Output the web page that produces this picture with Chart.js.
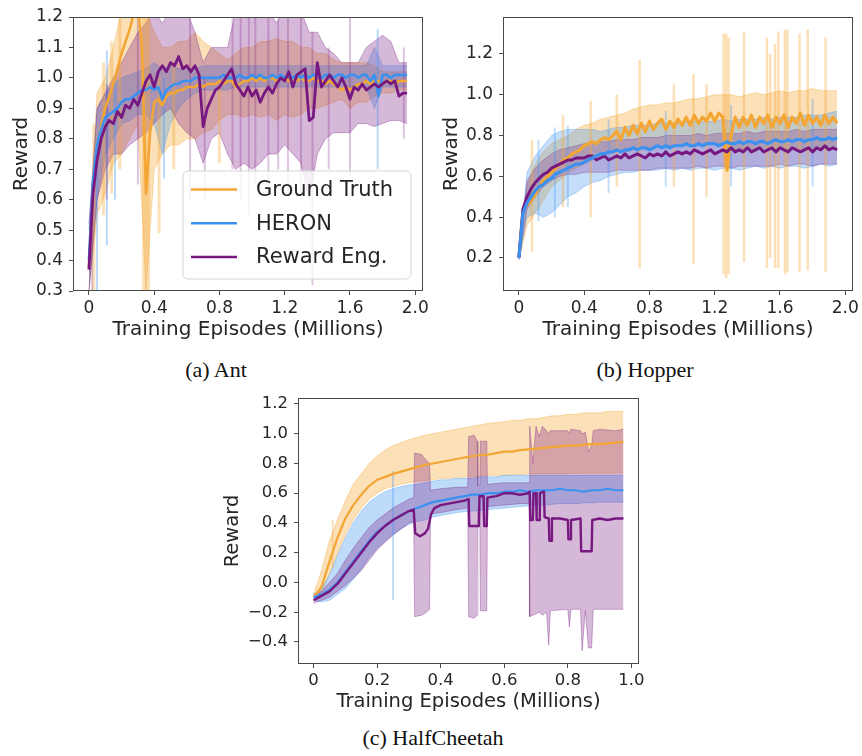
<!DOCTYPE html>
<html>
<head>
<meta charset="utf-8">
<script src="https://cdn.jsdelivr.net/npm/chart.js@4.4.1/dist/chart.umd.min.js"></script>
<style>
  html, body { margin: 0; padding: 0; background: #fff; overflow: hidden; }
  body { width: 862px; height: 756px; position: relative; }
  .panel { position: absolute; }
  .cap { position: absolute; font-family: 'Liberation Serif', 'Times New Roman', serif; font-size: 22px; line-height: 26px; color: #111; white-space: nowrap; transform: translateX(-50%); }
</style>
</head>
<body>
<div class="panel" style="left:0;top:0;width:430px;height:345px"><canvas id="ca"></canvas></div>
<div class="panel" style="left:430px;top:0;width:432px;height:345px"><canvas id="cb"></canvas></div>
<div class="panel" style="left:210px;top:385px;width:440px;height:335px"><canvas id="cc"></canvas></div>
<div class="cap" style="left:216px;top:357px">(a) Ant</div>
<div class="cap" style="left:645px;top:357px">(b) Hopper</div>
<div class="cap" style="left:433px;top:725px">(c) HalfCheetah</div>
<script>
// ---- shared ----
const seriesNames = ['Ground Truth', 'HERON', 'Reward Eng.'];
const GT_RGB = '243,166,51', HERON_RGB = '60,145,240', RE_RGB = '118,24,128';
const INK = '#262626', AXIS = '#4a4a4a';

const longX = [0,0.025,0.05,0.075,0.1,0.125,0.15,0.175,0.2,0.225,0.25,0.275,0.3,0.325,0.35,0.375,0.4,0.425,0.45,0.475,
  0.5,0.525,0.55,0.575,0.6,0.625,0.65,0.675,0.7,0.725,0.75,0.775,0.8,0.825,0.85,0.875,0.9,0.925,0.95,0.975,
  1.0,1.025,1.05,1.075,1.1,1.125,1.15,1.175,1.2,1.225,1.25,1.275,1.3,1.325,1.35,1.375,1.4,1.425,1.45,1.475,
  1.5,1.525,1.55,1.575,1.6,1.625,1.65,1.675,1.7,1.725,1.75,1.775,1.8,1.825,1.85,1.875,1.9,1.925,1.95];
const longBandX = [0,0.05,0.1,0.15,0.2,0.25,0.3,0.35,0.4,0.45,0.5,0.55,0.6,0.65,0.7,0.75,0.8,0.85,0.9,0.95,
  1.0,1.05,1.1,1.15,1.2,1.25,1.3,1.35,1.4,1.45,1.5,1.55,1.6,1.65,1.7,1.75,1.8,1.85,1.9,1.95];
const longXTicks = [0, 0.4, 0.8, 1.2, 1.6, 2.0];
const longXLabels = ['0', '0.4', '0.8', '1.2', '1.6', '2.0'];

// ---- (a) Ant ----
const antYTicks = [0.3, 0.4, 0.5, 0.6, 0.7, 0.8, 0.9, 1.0, 1.1, 1.2];
const antGt = [0.38,0.63,0.76,0.84,0.90,0.94,0.98,1.03,1.08,1.12,
  1.16,1.21,1.24,1.10,0.62,0.82,0.92,0.93,0.91,0.94,
  0.95,0.95,0.96,0.96,0.97,0.97,0.97,0.98,0.97,0.98,
  0.98,0.98,0.99,0.98,0.99,0.99,0.97,0.98,0.99,0.99,
  1.00,0.99,1.00,0.99,1.00,1.00,0.99,1.00,1.00,0.99,
  1.00,0.99,1.00,0.99,0.99,1.00,0.99,0.99,0.98,0.99,
  0.98,0.97,0.96,0.97,0.96,0.97,0.98,0.98,0.99,0.98,
  0.99,0.99,0.98,0.99,0.99,0.98,0.99,0.99,0.99];
const antHeron = [0.40,0.66,0.78,0.83,0.87,0.88,0.89,0.90,0.92,0.93,
  0.93,0.94,0.95,0.96,0.96,0.97,0.96,0.97,0.93,0.96,
  0.97,0.98,0.98,0.99,0.99,0.99,1.00,1.00,1.00,1.00,
  1.00,1.00,1.00,1.01,1.00,1.00,1.00,1.01,1.00,1.00,
  1.01,1.00,1.01,1.00,1.00,1.01,1.00,1.01,1.00,1.01,
  1.00,1.01,1.00,1.01,1.00,1.01,1.01,1.00,1.01,1.01,
  1.00,1.01,1.01,1.00,1.01,1.01,1.00,1.01,1.01,0.99,
  1.01,0.94,1.01,1.01,1.00,1.01,1.01,1.01,1.01];
const antRe = [0.37,0.62,0.73,0.80,0.84,0.86,0.85,0.89,0.87,0.91,
  0.90,0.93,0.91,0.95,0.99,1.01,0.97,1.02,1.04,1.02,
  1.05,1.04,1.07,1.03,1.04,1.02,1.04,1.01,0.84,0.90,
  0.93,0.96,0.97,0.99,1.01,1.03,0.98,0.96,0.94,0.97,
  0.94,0.96,0.92,0.95,0.97,0.95,0.98,1.00,0.99,1.02,
  0.97,1.01,1.02,1.03,0.86,0.87,1.05,0.97,0.99,1.01,
  0.99,0.97,1.00,0.97,0.93,0.97,0.96,0.98,0.96,0.97,
  0.98,0.97,0.98,0.99,0.98,0.99,0.94,0.95,0.95];
const antGtLo = [0.30,0.55,0.62,0.72,0.75,0.80,0.85,0.30,0.70,0.75,
  0.78,0.78,0.80,0.80,0.82,0.83,0.86,0.88,0.88,0.87,
  0.88,0.87,0.88,0.86,0.88,0.87,0.88,0.90,0.90,0.91,
  0.92,0.93,0.90,0.92,0.92,0.94,0.95,0.95,0.96,0.96];
const antGtHi = [0.45,0.95,1.00,1.10,1.22,1.22,1.22,1.22,1.15,1.10,
  1.10,1.12,1.12,1.15,1.12,1.10,1.08,1.06,1.08,1.10,
  1.10,1.12,1.12,1.13,1.12,1.12,1.10,1.10,1.08,1.08,
  1.06,1.05,1.05,1.05,1.05,1.04,1.02,1.02,1.02,1.02];
const antHeronLo = [0.30,0.60,0.75,0.80,0.85,0.86,0.88,0.88,0.85,0.75,
  0.85,0.90,0.93,0.95,0.96,0.96,0.96,0.96,0.97,0.97,
  0.97,0.97,0.97,0.97,0.97,0.97,0.97,0.97,0.97,0.97,
  0.97,0.97,0.97,0.97,0.97,0.90,0.97,0.97,0.97,0.97];
const antHeronHi = [0.50,0.90,0.95,0.98,1.00,1.01,1.02,1.03,1.05,1.03,
  1.04,1.03,1.03,1.03,1.04,1.04,1.04,1.04,1.04,1.04,
  1.04,1.04,1.04,1.04,1.04,1.04,1.04,1.04,1.04,1.04,
  1.04,1.04,1.04,1.04,1.04,1.10,1.04,1.04,1.04,1.04];
const antReLo = [0.30,0.60,0.70,0.75,0.75,0.78,0.80,0.82,0.85,0.88,
  0.90,0.85,0.82,0.80,0.72,0.80,0.82,0.75,0.70,0.72,
  0.70,0.72,0.75,0.75,0.78,0.75,0.72,0.60,0.75,0.80,
  0.82,0.82,0.82,0.85,0.85,0.84,0.85,0.86,0.86,0.85];
const antReHi = [0.52,0.90,0.95,1.00,1.05,1.10,1.15,1.18,1.22,1.18,
  1.22,1.22,1.22,1.15,1.05,1.10,1.10,1.10,1.22,1.22,
  1.22,1.22,1.22,1.18,1.22,1.22,1.22,1.15,1.15,1.10,
  1.08,1.05,1.05,1.05,1.10,1.12,1.14,1.12,1.05,1.05];
// [x, low, high]
const antGtSpikes = [[0.03,0.30,0.85],[0.09,0.55,1.05],[0.14,0.62,1.12],[0.19,0.70,1.22],[0.335,0.30,1.22],[0.35,0.30,1.22],[0.365,0.30,1.22],[0.43,0.49,1.00],[0.52,0.70,1.05],[0.80,0.72,1.00]];
const antHeronSpikes = [[0.05,0.30,0.70],[0.11,0.45,1.09],[0.16,0.60,1.00],[0.46,0.67,1.00],[1.77,0.70,1.16]];
const antReSpikes = [[0.02,0.30,0.65],[0.11,0.60,0.98],[0.30,0.65,1.22],[0.62,0.60,1.22],[0.71,0.60,1.00],[0.88,0.70,1.22],[0.93,0.60,1.22],[0.98,0.55,1.22],[1.02,0.65,1.22],[1.10,0.62,1.22],[1.16,0.70,1.22],[1.22,0.62,1.22],[1.30,0.60,1.22],[1.37,0.32,1.15],[1.47,0.70,1.10],[1.60,0.68,1.22],[1.93,0.80,1.10]];

// ---- (b) Hopper ----
const hopperYTicks = [0.2, 0.4, 0.6, 0.8, 1.0, 1.2];
const hopperGt = [0.20,0.43,0.46,0.48,0.51,0.55,0.58,0.60,0.62,0.64,
  0.66,0.68,0.69,0.71,0.72,0.73,0.75,0.76,0.77,0.76,
  0.78,0.79,0.78,0.80,0.82,0.78,0.84,0.80,0.85,0.81,
  0.86,0.82,0.87,0.83,0.86,0.88,0.83,0.87,0.84,0.88,
  0.85,0.89,0.85,0.90,0.86,0.89,0.87,0.91,0.87,0.91,
  0.89,0.63,0.80,0.89,0.84,0.89,0.85,0.90,0.84,0.89,
  0.86,0.90,0.84,0.89,0.86,0.90,0.84,0.89,0.86,0.91,
  0.85,0.90,0.86,0.89,0.85,0.90,0.86,0.89,0.86];
const hopperHeron = [0.20,0.42,0.47,0.50,0.53,0.55,0.56,0.58,0.59,0.61,
  0.62,0.63,0.64,0.65,0.66,0.66,0.67,0.68,0.69,0.70,
  0.71,0.71,0.72,0.72,0.73,0.72,0.73,0.73,0.74,0.73,
  0.74,0.74,0.73,0.74,0.75,0.74,0.75,0.74,0.75,0.75,
  0.75,0.76,0.75,0.75,0.76,0.75,0.76,0.76,0.76,0.75,
  0.76,0.77,0.76,0.76,0.77,0.76,0.77,0.77,0.76,0.77,
  0.77,0.76,0.77,0.78,0.77,0.77,0.78,0.77,0.78,0.78,
  0.77,0.78,0.78,0.79,0.78,0.78,0.79,0.78,0.79];
const hopperRe = [0.20,0.44,0.50,0.54,0.57,0.59,0.61,0.62,0.64,0.65,
  0.66,0.67,0.68,0.68,0.69,0.69,0.69,0.70,0.70,0.68,
  0.69,0.70,0.68,0.69,0.70,0.69,0.71,0.69,0.70,0.71,
  0.70,0.69,0.71,0.70,0.71,0.70,0.72,0.70,0.71,0.72,
  0.71,0.72,0.71,0.73,0.72,0.71,0.72,0.73,0.71,0.72,
  0.73,0.72,0.74,0.72,0.73,0.72,0.74,0.72,0.73,0.74,
  0.72,0.73,0.74,0.72,0.74,0.73,0.72,0.74,0.73,0.72,
  0.73,0.74,0.72,0.74,0.73,0.75,0.73,0.74,0.73];
const hopperGtLo = [0.19,0.36,0.42,0.48,0.55,0.58,0.62,0.64,0.66,0.68,
  0.70,0.71,0.72,0.72,0.73,0.74,0.74,0.75,0.75,0.75,
  0.75,0.76,0.75,0.76,0.76,0.75,0.74,0.73,0.74,0.73,
  0.74,0.73,0.74,0.73,0.74,0.73,0.74,0.74,0.73,0.74];
const hopperGtHi = [0.22,0.56,0.66,0.72,0.76,0.78,0.80,0.83,0.85,0.86,
  0.88,0.89,0.90,0.91,0.93,0.94,0.95,0.95,0.96,0.96,
  0.97,0.98,0.98,0.99,1.00,1.00,1.00,0.99,1.00,1.01,
  1.00,1.01,1.02,1.01,1.02,1.02,1.03,1.02,1.02,1.02];
const hopperHeronLo = [0.19,0.40,0.42,0.40,0.42,0.46,0.50,0.52,0.55,0.57,
  0.58,0.60,0.61,0.62,0.62,0.63,0.63,0.63,0.64,0.63,
  0.64,0.63,0.64,0.64,0.63,0.64,0.64,0.63,0.64,0.65,
  0.64,0.65,0.64,0.65,0.65,0.64,0.65,0.66,0.65,0.66];
const hopperHeronHi = [0.22,0.62,0.70,0.75,0.80,0.82,0.83,0.83,0.83,0.83,
  0.82,0.83,0.84,0.84,0.85,0.85,0.85,0.86,0.86,0.86,
  0.86,0.87,0.87,0.87,0.87,0.88,0.87,0.88,0.88,0.88,
  0.89,0.88,0.89,0.89,0.89,0.90,0.90,0.90,0.91,0.92];
const hopperReLo = [0.19,0.44,0.50,0.55,0.58,0.60,0.61,0.61,0.62,0.62,
  0.62,0.62,0.63,0.63,0.63,0.63,0.63,0.64,0.64,0.64,
  0.64,0.64,0.65,0.64,0.65,0.65,0.64,0.65,0.65,0.65,
  0.65,0.65,0.66,0.65,0.66,0.66,0.65,0.66,0.66,0.66];
const hopperReHi = [0.22,0.58,0.64,0.68,0.71,0.73,0.74,0.75,0.76,0.76,
  0.77,0.77,0.78,0.78,0.78,0.79,0.79,0.79,0.80,0.80,
  0.80,0.80,0.81,0.80,0.81,0.81,0.81,0.81,0.82,0.81,
  0.82,0.82,0.82,0.82,0.83,0.82,0.83,0.83,0.83,0.83];
const hopperGtSpikes = [[0.08,0.23,0.78],[0.27,0.45,0.90],[0.44,0.40,0.97],[0.60,0.55,1.00],[0.74,0.15,1.17],[0.95,0.55,1.05],[1.07,0.17,1.10],[1.15,0.50,1.05],
  [1.255,0.12,1.30],[1.27,0.10,1.30],[1.285,0.12,1.28],[1.38,0.18,1.31],[1.52,0.15,1.28],[1.54,0.20,1.20],[1.57,0.15,1.25],[1.59,0.15,1.31],
  [1.63,0.12,1.32],[1.645,0.13,1.32],[1.72,0.13,1.30],[1.77,0.14,1.32],[1.88,0.13,1.28]];
const hopperHeronSpikes = [[0.12,0.38,0.78],[0.22,0.40,0.84],[0.30,0.45,0.85],[0.55,0.52,0.88],[0.90,0.55,0.92],[1.30,0.55,0.95],[1.80,0.55,0.98]];

// ---- (c) HalfCheetah ----
const cheetahX = [0,0.025,0.05,0.075,0.1,0.125,0.15,0.175,0.2,0.225,0.25,0.275,0.3,0.325,0.35,0.375,0.4,0.425,0.45,0.475,
  0.5,0.525,0.55,0.575,0.6,0.625,0.65,0.675,0.7,0.725,0.75,0.775,0.8,0.825,0.85,0.875,0.9,0.925,0.95,0.975];
const cheetahXTicks = [0, 0.2, 0.4, 0.6, 0.8, 1.0];
const cheetahXLabels = ['0', '0.2', '0.4', '0.6', '0.8', '1.0'];
const cheetahYTicks = [-0.4, -0.2, 0, 0.2, 0.4, 0.6, 0.8, 1.0, 1.2];
const cheetahYLabels = ['\u22120.4', '\u22120.2', '0.0', '0.2', '0.4', '0.6', '0.8', '1.0', '1.2'];
const cheetahGt = [-0.10,-0.03,0.14,0.30,0.43,0.52,0.59,0.65,0.69,0.71,
  0.73,0.745,0.76,0.775,0.79,0.80,0.81,0.82,0.83,0.84,
  0.85,0.855,0.86,0.87,0.88,0.88,0.89,0.895,0.90,0.905,
  0.91,0.915,0.92,0.92,0.925,0.93,0.93,0.935,0.94,0.945];
const cheetahHeron = [-0.10,-0.08,-0.05,0.00,0.07,0.14,0.21,0.28,0.34,0.38,
  0.42,0.45,0.48,0.50,0.52,0.54,0.55,0.56,0.57,0.58,
  0.59,0.59,0.60,0.60,0.61,0.61,0.62,0.61,0.62,0.62,
  0.62,0.63,0.62,0.62,0.61,0.62,0.62,0.63,0.62,0.62];
const cheetahGtLo = [-0.12,-0.08,0.06,0.19,0.32,0.42,0.50,0.56,0.60,0.63,
  0.645,0.66,0.67,0.68,0.685,0.69,0.70,0.70,0.705,0.71,
  0.71,0.715,0.72,0.72,0.72,0.725,0.725,0.73,0.73,0.73,
  0.73,0.73,0.73,0.735,0.735,0.735,0.735,0.735,0.735,0.735];
const cheetahGtHi = [-0.08,0.08,0.28,0.42,0.55,0.66,0.73,0.80,0.85,0.89,
  0.92,0.94,0.96,0.975,0.99,1.00,1.01,1.02,1.03,1.04,
  1.05,1.06,1.07,1.075,1.08,1.09,1.09,1.10,1.10,1.11,
  1.12,1.12,1.13,1.13,1.14,1.14,1.14,1.15,1.15,1.15];
const cheetahHeronLo = [-0.12,-0.13,-0.12,-0.08,-0.04,0.02,0.09,0.17,0.23,0.28,
  0.32,0.36,0.39,0.41,0.42,0.44,0.45,0.46,0.47,0.475,
  0.48,0.485,0.49,0.495,0.50,0.505,0.51,0.515,0.52,0.52,
  0.525,0.53,0.53,0.53,0.535,0.535,0.54,0.54,0.54,0.54];
const cheetahHeronHi = [-0.08,-0.04,0.05,0.18,0.30,0.40,0.48,0.54,0.58,0.61,
  0.63,0.645,0.655,0.66,0.67,0.68,0.69,0.69,0.70,0.70,
  0.70,0.71,0.71,0.71,0.72,0.72,0.72,0.72,0.72,0.72,
  0.72,0.72,0.72,0.72,0.72,0.72,0.72,0.72,0.72,0.72];
// [x, y]
const cheetahRe = [[0,-0.12],[0.025,-0.09],[0.05,-0.06],[0.075,-0.01],[0.1,0.06],[0.125,0.13],[0.15,0.20],[0.175,0.27],[0.2,0.33],[0.225,0.38],[0.25,0.42],[0.275,0.45],[0.3,0.48],[0.315,0.49],
  [0.32,0.33],[0.335,0.31],[0.35,0.33],[0.36,0.36],[0.37,0.46],[0.38,0.50],[0.4,0.52],[0.425,0.53],[0.45,0.54],[0.475,0.55],[0.488,0.56],
  [0.49,0.38],[0.52,0.38],[0.522,0.58],[0.535,0.58],[0.537,0.38],[0.545,0.38],[0.547,0.57],[0.575,0.58],[0.6,0.60],[0.625,0.60],[0.65,0.59],[0.675,0.60],[0.68,0.61],
  [0.682,0.42],[0.69,0.42],[0.692,0.60],[0.70,0.60],[0.702,0.42],[0.71,0.42],[0.712,0.60],[0.725,0.61],[0.727,0.44],[0.74,0.43],
  [0.742,0.28],[0.748,0.28],[0.75,0.43],[0.775,0.43],[0.8,0.42],[0.802,0.29],[0.808,0.29],[0.81,0.42],[0.84,0.43],[0.842,0.21],[0.875,0.21],[0.877,0.42],
  [0.9,0.43],[0.925,0.42],[0.95,0.43],[0.975,0.43]];
// [x, low, high]
const cheetahReBand = [[0,-0.14,-0.08],[0.025,-0.12,-0.06],[0.05,-0.10,0.0],[0.075,-0.06,0.06],[0.1,-0.02,0.15],[0.125,0.03,0.23],[0.15,0.08,0.30],[0.175,0.15,0.37],[0.2,0.22,0.42],[0.225,0.27,0.46],[0.25,0.32,0.50],[0.275,0.36,0.53],[0.3,0.40,0.56],[0.315,0.41,0.57],
  [0.318,-0.23,0.87],[0.34,-0.22,0.86],[0.355,-0.20,0.82],[0.365,-0.18,0.80],[0.368,0.46,0.62],[0.4,0.47,0.63],[0.45,0.49,0.64],[0.485,0.50,0.64],
  [0.488,-0.23,0.98],[0.505,-0.24,0.99],[0.515,-0.22,0.95],[0.517,0.50,0.65],[0.523,0.50,0.65],[0.525,-0.19,0.95],[0.545,-0.19,0.95],[0.547,0.51,0.66],[0.6,0.52,0.67],[0.65,0.53,0.67],[0.678,0.53,0.67],
  [0.68,-0.23,1.05],[0.69,-0.22,0.80],[0.70,-0.21,1.05],[0.71,-0.20,0.98],[0.72,-0.22,1.05],[0.733,-0.20,1.02],
  [0.74,-0.42,1.0],[0.745,-0.19,1.02],[0.8,-0.18,1.02],[0.805,-0.30,1.0],[0.81,-0.18,1.03],[0.84,-0.18,1.02],[0.845,-0.46,1.0],[0.855,-0.19,1.01],[0.865,-0.44,0.88],[0.875,-0.44,0.92],[0.88,-0.18,1.02],
  [0.9,-0.18,1.03],[0.95,-0.18,1.02],[0.975,-0.18,1.03]];
const cheetahGtSpikes = [[0.06,0.10,0.42]];
const cheetahHeronSpikes = [[0.25,-0.12,0.75]];

// ---- helpers ----
function pts(xs, ys) { return ys.map((y, i) => ({ x: xs[i], y })); }
function pairs(list) { return list.map(([x, y]) => ({ x, y })); }
function spikes(list) {
  const out = [];
  list.forEach(([x, lo, hi]) => out.push({ x, y: lo }, { x, y: hi }, { x, y: null }));
  return out;
}
function line(data, rgb, order, w) {
  return { data, borderColor: `rgb(${rgb})`, borderWidth: w || 2.2, borderJoinStyle: 'round', pointRadius: 0, fill: false, order, clip: 0 };
}
function band(lo, hi, rgb, a, order) {
  const edge = `rgba(${rgb},${a + 0.12})`;
  return [
    { data: hi, borderColor: edge, borderWidth: 0.8, backgroundColor: `rgba(${rgb},${a})`, fill: '+1', pointRadius: 0, order, clip: 0 },
    { data: lo, borderColor: edge, borderWidth: 0.8, fill: false, pointRadius: 0, order, clip: 0 }
  ];
}
function spikeSet(list, rgb, a, w, order) {
  return { data: spikes(list), borderColor: `rgba(${rgb},${a})`, borderWidth: w, borderCapStyle: 'butt', pointRadius: 0, fill: false, spanGaps: false, order, clip: 0 };
}

const frame = {
  id: 'frame',
  afterDatasetsDraw(chart) {
    const { ctx, chartArea: a } = chart;
    ctx.save();
    ctx.strokeStyle = AXIS; ctx.lineWidth = 1;
    ctx.strokeRect(Math.round(a.left) + 0.5, Math.round(a.top) + 0.5, Math.round(a.right - a.left) - 1, Math.round(a.bottom - a.top) - 1);
    ctx.restore();
  }
};

function boxLegend(items) {
  return {
    id: 'boxLegend',
    afterDraw(chart) {
      const { ctx, chartArea: a } = chart;
      const w = 228, h = 108, x0 = a.right - 12 - w, y0 = a.bottom - 12 - h;
      ctx.save();
      ctx.beginPath(); ctx.roundRect(x0, y0, w, h, 5);
      ctx.fillStyle = 'rgba(255,255,255,0.8)'; ctx.fill();
      ctx.strokeStyle = '#d6d6d6'; ctx.lineWidth = 1; ctx.stroke();
      ctx.font = '21px "DejaVu Sans"'; ctx.textBaseline = 'middle';
      items.forEach((it, i) => {
        const y = y0 + 18.5 + i * 33.7;
        ctx.strokeStyle = it.color; ctx.lineWidth = 2.5;
        ctx.beginPath(); ctx.moveTo(x0 + 8, y); ctx.lineTo(x0 + 54, y); ctx.stroke();
        ctx.fillStyle = INK; ctx.fillText(it.label, x0 + 73, y + 1);
      });
      ctx.restore();
    }
  };
}

function axes(o) {
  const tickFont = { family: 'DejaVu Sans', size: o.tick };
  const titleFont = { family: 'DejaVu Sans', size: o.title };
  const grid = { display: true, drawOnChartArea: false, drawTicks: true, tickLength: 4, color: AXIS };
  return {
    x: {
      type: 'linear', min: o.xMin, max: o.xMax,
      afterBuildTicks: s => { s.ticks = o.xTicks.map(v => ({ value: v })); },
      afterFit: s => { s.height = o.xH; s.paddingLeft = 0; s.paddingRight = 0; },
      ticks: { font: tickFont, color: INK, padding: 3, maxRotation: 0, autoSkip: false, callback: (v, i) => o.xLabels[i] },
      grid, border: { display: false },
      title: { display: true, text: 'Training Episodes (Millions)', font: titleFont, color: INK, padding: { top: 0, bottom: o.xTitlePad } }
    },
    y: {
      type: 'linear', min: o.yMin, max: o.yMax,
      afterBuildTicks: s => { s.ticks = o.yTicks.map(v => ({ value: v })); },
      afterFit: s => { s.width = o.yW; s.paddingTop = 0; s.paddingBottom = 0; },
      ticks: { font: tickFont, color: INK, padding: 6, autoSkip: false, callback: (v, i) => o.yLabels[i] },
      grid, border: { display: false },
      title: { display: true, text: 'Reward', font: titleFont, color: INK, padding: { top: o.yTitlePad, bottom: 0 } }
    }
  };
}

function makeChart(id, o, datasets, extra) {
  return new Chart(document.getElementById(id), {
    type: 'line',
    data: { datasets },
    options: {
      responsive: true, maintainAspectRatio: false, animation: false, events: [],
      layout: { padding: o.pad, autoPadding: false },
      plugins: { legend: { display: false }, tooltip: { enabled: false } },
      scales: axes(o)
    },
    plugins: [frame].concat(extra || [])
  });
}

// (a) Ant
makeChart('ca', {
  pad: { top: 17, right: 7, left: 0, bottom: 0 }, yW: 73, xH: 54,
  xMin: -0.0975, xMax: 2.0475, yMin: 0.3, yMax: 1.2,
  xTicks: longXTicks, xLabels: longXLabels, yTicks: antYTicks, yLabels: antYTicks.map(v => v.toFixed(1)),
  tick: 17, title: 20, xTitlePad: 3, yTitlePad: 10
}, [
  line(pts(longX, antRe), RE_RGB, 1, 2.8),
  line(pts(longX, antHeron), HERON_RGB, 2, 2.6),
  line(pts(longX, antGt), GT_RGB, 3, 2.6),
  spikeSet(antReSpikes, RE_RGB, 0.25, 2, 5),
  spikeSet(antHeronSpikes, HERON_RGB, 0.35, 2, 5),
  spikeSet(antGtSpikes, GT_RGB, 0.35, 3, 5),
  ...band(pts(longBandX, antReLo), pts(longBandX, antReHi), RE_RGB, 0.3, 6),
  ...band(pts(longBandX, antHeronLo), pts(longBandX, antHeronHi), HERON_RGB, 0.3, 7),
  ...band(pts(longBandX, antGtLo), pts(longBandX, antGtHi), GT_RGB, 0.35, 8)
], [boxLegend([
  { label: seriesNames[0], color: `rgb(${GT_RGB})` },
  { label: seriesNames[1], color: `rgb(${HERON_RGB})` },
  { label: seriesNames[2], color: `rgb(${RE_RGB})` }
])]);

// (b) Hopper
makeChart('cb', {
  pad: { top: 17, right: 9, left: 0, bottom: 0 }, yW: 73, xH: 54,
  xMin: -0.0975, xMax: 2.0475, yMin: 0.038, yMax: 1.381,
  xTicks: longXTicks, xLabels: longXLabels, yTicks: hopperYTicks, yLabels: hopperYTicks.map(v => v.toFixed(1)),
  tick: 17, title: 20, xTitlePad: 3, yTitlePad: 10
}, [
  line(pts(longX, hopperHeron), HERON_RGB, 1, 3.2),
  line(pts(longX, hopperRe), RE_RGB, 2, 3),
  line(pts(longX, hopperGt), GT_RGB, 3, 3.2),
  spikeSet(hopperHeronSpikes, HERON_RGB, 0.3, 2, 5),
  spikeSet(hopperGtSpikes, GT_RGB, 0.35, 2.5, 5),
  ...band(pts(longBandX, hopperReLo), pts(longBandX, hopperReHi), RE_RGB, 0.25, 6),
  ...band(pts(longBandX, hopperHeronLo), pts(longBandX, hopperHeronHi), HERON_RGB, 0.3, 7),
  ...band(pts(longBandX, hopperGtLo), pts(longBandX, hopperGtHi), GT_RGB, 0.35, 8)
]);

// (c) HalfCheetah
makeChart('cc', {
  pad: { top: 13, right: 11, left: 0, bottom: 0 }, yW: 88, xH: 56,
  xMin: -0.049, xMax: 1.024, yMin: -0.548, yMax: 1.24,
  xTicks: cheetahXTicks, xLabels: cheetahXLabels, yTicks: cheetahYTicks, yLabels: cheetahYLabels,
  tick: 16.5, title: 19.5, xTitlePad: 6, yTitlePad: 11
}, [
  line(pairs(cheetahRe), RE_RGB, 1, 2.4),
  line(pts(cheetahX, cheetahHeron), HERON_RGB, 2, 2.2),
  line(pts(cheetahX, cheetahGt), GT_RGB, 3, 2.2),
  spikeSet(cheetahHeronSpikes, HERON_RGB, 0.4, 1.5, 5),
  spikeSet(cheetahGtSpikes, GT_RGB, 0.4, 1.5, 5),
  ...band(cheetahReBand.map(([x, lo]) => ({ x, y: lo })), cheetahReBand.map(([x, , hi]) => ({ x, y: hi })), RE_RGB, 0.3, 6),
  ...band(pts(cheetahX, cheetahHeronLo), pts(cheetahX, cheetahHeronHi), HERON_RGB, 0.33, 7),
  ...band(pts(cheetahX, cheetahGtLo), pts(cheetahX, cheetahGtHi), GT_RGB, 0.35, 8)
]);
</script>
</body>
</html>
